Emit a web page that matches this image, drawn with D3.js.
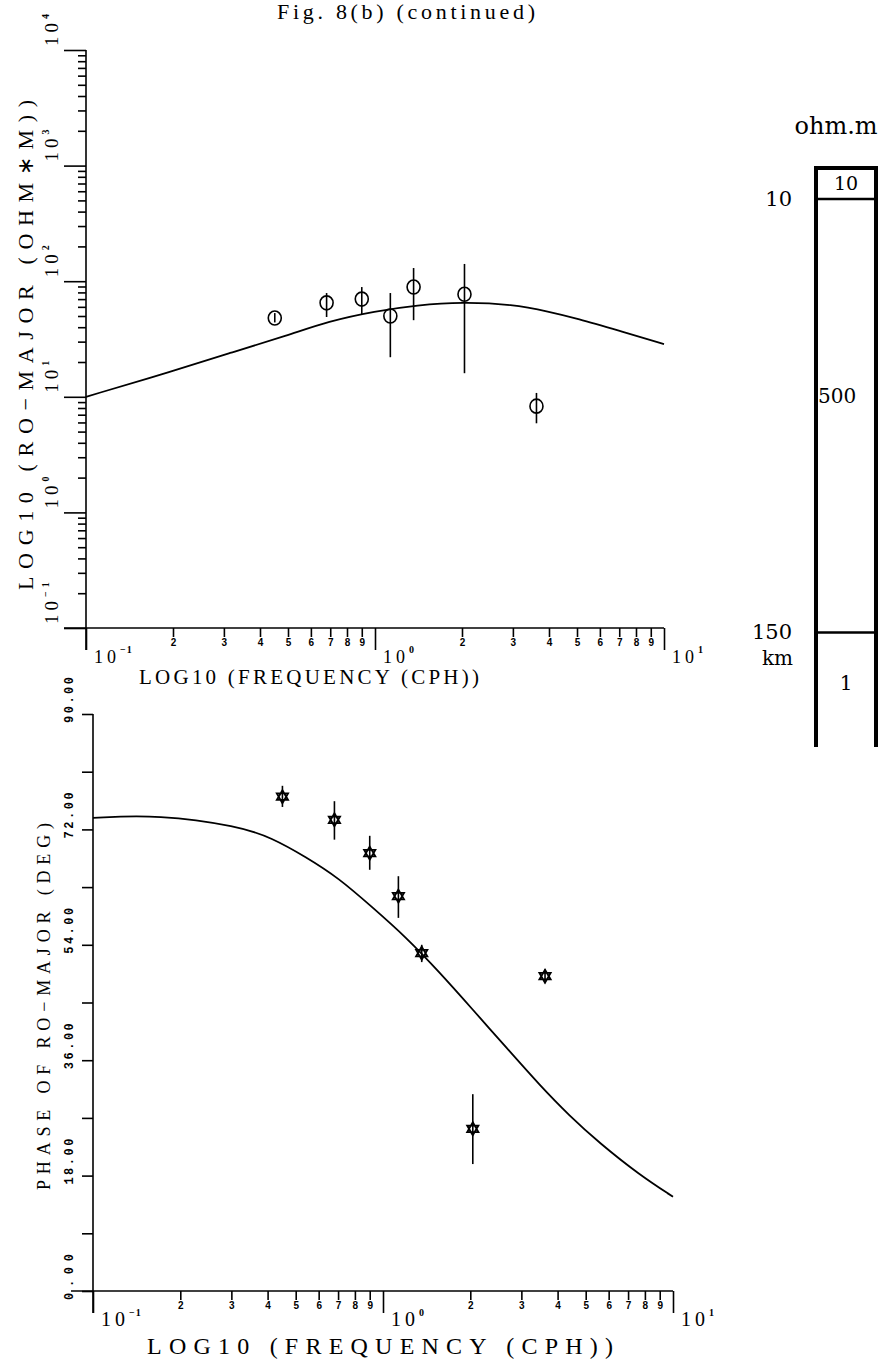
<!DOCTYPE html>
<html>
<head>
<meta charset="utf-8">
<script src="https://cdnjs.cloudflare.com/ajax/libs/d3/7.8.5/d3.min.js"></script>
<style>
  body { margin: 0; background: #fff; }
  svg { display: block; }
  .axis path, .axis line { stroke: #000; stroke-width: 1.6; }
  .axis text { font-family: "Liberation Sans", sans-serif; font-weight: bold; fill: #000; }
  .lbl { font-family: "Liberation Serif", serif; fill: #000; }
  .panel { font-family: "DejaVu Serif", serif; fill: #000; }
</style>
</head>
<body>
<div class="chart"></div>
<script>
/* ---------------------------------------------------- +/

## Fig. 8(b) (continued) ##

Apparent resistivity / phase (RO-MAJOR) against frequency,
with the layered model on the right

/+ ---------------------------------------------------- */

// observed data
var freqs    = [0.45, 0.68, 0.9, 1.13, 1.36, 2.04, 3.62];
var rho      = [48, 65, 70, 50, 89, 77, 8.3];
var rhoLo    = [44, 49, 52, 22, 46, 16, 5.9];
var rhoHi    = [53, 79, 89, 79, 130, 141, 10.8];
var phase    = [77.1, 73.5, 68.3, 61.6, 52.7, 25.3, 49.1];
var phaseLo  = [75.5, 70.4, 65.7, 58.2, 51.3, 19.8, 48.0];
var phaseHi  = [78.8, 76.4, 71.0, 64.7, 54.0, 30.7, 50.2];

// model response curves
var rhoCurveFreq   = [0.1, 0.2, 0.315, 0.5, 0.69, 1.0, 1.4, 2.0, 3.0, 4.0, 5.0, 7.0, 10];
var rhoCurve       = [10, 16.7, 24, 34, 45, 55, 62, 66, 63, 54.5, 47.6, 37.2, 28.6];
var phaseCurveFreq = [0.1, 0.168, 0.318, 0.413, 0.542, 0.704, 0.916, 1.2, 1.56, 2.03, 2.67, 3.47, 4.4, 5.57, 7.67, 10];
var phaseCurve     = [73.8, 74.3, 72.5, 70.7, 67.7, 64.4, 59.9, 55.2, 49.8, 44.0, 37.9, 32.1, 27.3, 23.1, 18.1, 14.7];

// tick values
var decadesX   = [0.1, 1, 10];
var decadeExpX = ["-1", "0", "1"];
var decadesY   = [0.1, 1, 10, 100, 1000, 10000];
var decadeExpY = ["-1", "0", "1", "2", "3", "4"];
var phaseTicks = [0, 9, 18, 27, 36, 45, 54, 63, 72, 81, 90];
var phaseLabels = [0, 18, 36, 54, 72, 90];

// layered model
var layerRes    = ["10", "500", "1"];
var layerDepths = [10, 150];
var modelBottom = 187;

var svg = d3.select(".chart").append("svg")
    .attr("width", 884)
    .attr("height", 1362);

// Title, near the top edge like the scan
svg.append("text")
    .attr("class", "lbl")
    .attr("x", 277)
    .attr("y", 19)
    .attr("textLength", 258)
    .attr("lengthAdjust", "spacing")
    .style("font-size", "22px")
    .text("Fig. 8(b) (continued)");

/**
 * minor log ticks 2..9 for each decade
 */
function minorTicks(lo, hi) {
    var out = [];
    for (var d = lo; d < hi; d *= 10) {
        for (var k = 2; k <= 9; k++) out.push(d * k);
    }
    return out;
}

/**
 * Log frequency axis, ticks down, small digits, 10^n labels
 */
function freqAxis(x, y0, labelSize) {
    svg.append("g")
        .attr("class", "axis")
        .attr("transform", "translate(0," + y0 + ")")
        .call(d3.axisBottom(x).tickValues(minorTicks(0.1, 10)).tickSize(9).tickPadding(2)
            .tickFormat(function (d) { return Math.round(d / Math.pow(10, Math.floor(Math.log10(d) + 1e-9))); }))
        .call(function (g) { g.select(".domain").remove(); })
        .selectAll("text").style("font-size", "10px");

    svg.append("g")
        .attr("class", "axis")
        .attr("transform", "translate(0," + y0 + ")")
        .call(d3.axisBottom(x).tickValues(decadesX).tickSize(22).tickFormat(""))
        .call(function (g) {
            g.select(".domain").attr("d", "M" + (x.range()[0] - 22) + ",0H" + x.range()[1]);
        });

    decadesX.forEach(function (d, i) {
        var t = svg.append("text")
            .attr("class", "lbl")
            .attr("x", x(d) + 8)
            .attr("y", y0 + 35)
            .style("font-size", labelSize + "px")
            .style("letter-spacing", "4px")
            .text("10");
        t.append("tspan")
            .attr("dy", -10)
            .style("font-size", "10px")
            .style("font-weight", "bold")
            .style("letter-spacing", "1px")
            .text(decadeExpX[i].replace("-", "\u2212"));
    });
}

// ---------- top plot: apparent resistivity ----------
var xTop = d3.scaleLog().domain([0.1, 10]).range([86, 664]);
var yTop = d3.scaleLog().domain([0.1, 1e4]).range([628, 50]);

svg.append("g")
    .attr("class", "axis")
    .attr("transform", "translate(86,0)")
    .call(d3.axisLeft(yTop).tickValues(minorTicks(0.1, 1e4)).tickSize(8).tickFormat(""))
    .call(function (g) { g.select(".domain").remove(); });

svg.append("g")
    .attr("class", "axis")
    .attr("transform", "translate(86,0)")
    .call(d3.axisLeft(yTop).tickValues(decadesY).tickSize(22).tickFormat(""))
    .call(function (g) { g.select(".domain").attr("d", "M0,50V650"); });

decadesY.forEach(function (d, i) {
    var yy = yTop(d) - 4;
    var t = svg.append("text")
        .attr("class", "lbl")
        .attr("transform", "translate(58," + yy + ") rotate(-90)")
        .style("font-size", "19px")
        .style("letter-spacing", "4px")
        .text("10");
    t.append("tspan")
        .attr("dy", -9)
        .style("font-size", "10px")
        .style("font-weight", "bold")
        .text(decadeExpY[i].replace("-", "\u2212"));
});

freqAxis(xTop, 628, 18);

svg.append("text")
    .attr("class", "lbl")
    .attr("x", 139)
    .attr("y", 684)
    .attr("textLength", 340)
    .attr("lengthAdjust", "spacing")
    .style("font-size", "21px")
    .text("LOG10 (FREQUENCY (CPH))");

svg.append("text")
    .attr("class", "lbl")
    .attr("transform", "translate(33,590) rotate(-90)")
    .attr("textLength", 490)
    .attr("lengthAdjust", "spacing")
    .style("font-size", "22px")
    .text("LOG10 (RO\u2212MAJOR (OHM\u2217M))");

var lineTop = d3.line()
    .x(function (d) { return xTop(d[0]); })
    .y(function (d) { return yTop(d[1]); })
    .curve(d3.curveBasis);

svg.append("path")
    .datum(d3.zip(rhoCurveFreq, rhoCurve))
    .attr("d", lineTop)
    .attr("fill", "none")
    .attr("stroke", "#000")
    .attr("stroke-width", 1.8);

var rhoPts = svg.append("g").selectAll("g")
    .data(d3.range(freqs.length))
    .join("g");

rhoPts.append("line")
    .attr("x1", function (i) { return xTop(freqs[i]); })
    .attr("x2", function (i) { return xTop(freqs[i]); })
    .attr("y1", function (i) { return yTop(rhoLo[i]); })
    .attr("y2", function (i) { return yTop(rhoHi[i]); })
    .attr("stroke", "#000")
    .attr("stroke-width", 1.6);

rhoPts.append("ellipse")
    .attr("cx", function (i) { return xTop(freqs[i]); })
    .attr("cy", function (i) { return yTop(rho[i]); })
    .attr("rx", 6.5)
    .attr("ry", 7)
    .attr("fill", "none")
    .attr("stroke", "#000")
    .attr("stroke-width", 1.6);

// ---------- bottom plot: phase ----------
var xBot = d3.scaleLog().domain([0.1, 10]).range([93, 673]);
var yBot = d3.scaleLinear().domain([0, 90]).range([1291, 714]);

svg.append("g")
    .attr("class", "axis")
    .attr("transform", "translate(93,0)")
    .call(d3.axisLeft(yBot).tickValues(phaseTicks).tickSize(11).tickFormat(""))
    .call(function (g) { g.select(".domain").attr("d", "M0,714V1313"); });

phaseLabels.forEach(function (d) {
    svg.append("text")
        .attr("class", "axis")
        .attr("transform", "translate(73," + (yBot(d) + 9) + ") rotate(-90)")
        .attr("textLength", 46)
        .attr("lengthAdjust", "spacing")
        .style("font-family", "Liberation Mono, monospace")
        .style("font-weight", "bold")
        .style("font-size", "12px")
        .text(d3.format(".2f")(d));
});

freqAxis(xBot, 1291, 20);

svg.append("text")
    .attr("class", "lbl")
    .attr("x", 147)
    .attr("y", 1354)
    .attr("textLength", 466)
    .attr("lengthAdjust", "spacing")
    .style("font-size", "24px")
    .text("LOG10 (FREQUENCY (CPH))");

svg.append("text")
    .attr("class", "lbl")
    .attr("transform", "translate(50,1190) rotate(-90)")
    .attr("textLength", 367)
    .attr("lengthAdjust", "spacing")
    .style("font-size", "18px")
    .text("PHASE OF RO\u2212MAJOR (DEG)");

var lineBot = d3.line()
    .x(function (d) { return xBot(d[0]); })
    .y(function (d) { return yBot(d[1]); })
    .curve(d3.curveBasis);

svg.append("path")
    .datum(d3.zip(phaseCurveFreq, phaseCurve))
    .attr("d", lineBot)
    .attr("fill", "none")
    .attr("stroke", "#000")
    .attr("stroke-width", 1.8);

// six-point star marker
function hexagram(cx, cy, r) {
    var up = [], dn = [];
    for (var k = 0; k < 3; k++) {
        var a = -Math.PI / 2 + k * 2 * Math.PI / 3;
        up.push([cx + r * Math.cos(a), cy + r * Math.sin(a)]);
        dn.push([cx - r * Math.cos(a), cy - r * Math.sin(a)]);
    }
    return "M" + up.join("L") + "Z M" + dn.join("L") + "Z";
}

var phPts = svg.append("g").selectAll("g")
    .data(d3.range(freqs.length))
    .join("g");

phPts.append("line")
    .attr("x1", function (i) { return xBot(freqs[i]); })
    .attr("x2", function (i) { return xBot(freqs[i]); })
    .attr("y1", function (i) { return yBot(phaseLo[i]); })
    .attr("y2", function (i) { return yBot(phaseHi[i]); })
    .attr("stroke", "#000")
    .attr("stroke-width", 1.6);

phPts.append("path")
    .attr("d", function (i) { return hexagram(xBot(freqs[i]), yBot(phase[i]), 6.5); })
    .attr("fill", "none")
    .attr("stroke", "#000")
    .attr("stroke-width", 1.8);

// ---------- layered model ----------
var yDepth = d3.scaleLinear().domain([0, modelBottom]).range([168, 747]);
var boxL = 816, boxR = 876;
var model = svg.append("g");

model.append("text")
    .attr("class", "panel")
    .attr("x", 836)
    .attr("y", 134)
    .attr("text-anchor", "middle")
    .style("font-size", "24px")
    .text("ohm.m");

model.append("line")
    .attr("x1", boxL - 2).attr("x2", boxR + 2)
    .attr("y1", yDepth(0)).attr("y2", yDepth(0))
    .attr("stroke", "#000").attr("stroke-width", 4);

[boxL, boxR].forEach(function (xx) {
    model.append("line")
        .attr("x1", xx).attr("x2", xx)
        .attr("y1", yDepth(0)).attr("y2", yDepth(modelBottom))
        .attr("stroke", "#000").attr("stroke-width", 4);
});

layerDepths.forEach(function (d) {
    model.append("line")
        .attr("x1", boxL).attr("x2", boxR)
        .attr("y1", yDepth(d)).attr("y2", yDepth(d))
        .attr("stroke", "#000").attr("stroke-width", 2.5);
    model.append("text")
        .attr("class", "panel")
        .attr("x", 792)
        .attr("y", yDepth(d) + 7)
        .attr("text-anchor", "end")
        .style("font-size", "21px")
        .text(d);
});

model.append("text")
    .attr("class", "panel")
    .attr("x", 793)
    .attr("y", yDepth(layerDepths[1]) + 33)
    .attr("text-anchor", "end")
    .style("font-size", "20px")
    .text("km");

var resY = [yDepth(layerDepths[0]) - 9, 403, 690];
layerRes.forEach(function (r, i) {
    model.append("text")
        .attr("class", "panel")
        .attr("x", i == 1 ? 818 : 846)
        .attr("y", resY[i])
        .attr("text-anchor", i == 1 ? "start" : "middle")
        .style("font-size", i == 0 ? "19px" : "20px")
        .text(r);
});
</script>
</body>
</html>
